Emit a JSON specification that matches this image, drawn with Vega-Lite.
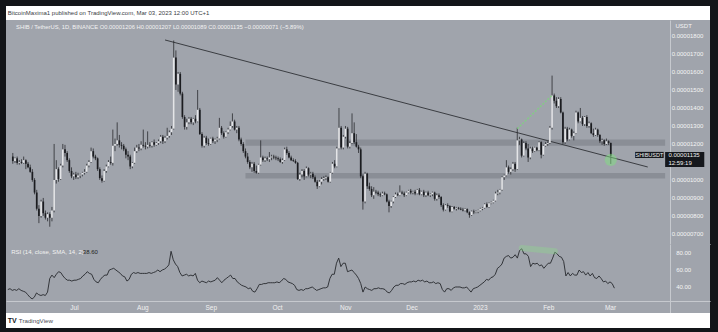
{
  "$schema": "https://vega.github.io/schema/vega-lite/v6.json",
  "background": "#131519",
  "padding": {"left": 6, "top": 6, "right": 8, "bottom": 4},
  "spacing": 0,
  "bounds": "flush",
  "config": {
    "view": {"stroke": null},
    "font": "Liberation Sans",
    "text": {"font": "Liberation Sans"},
    "axis": {"labelFont": "Liberation Sans", "titleFont": "Liberation Sans"}
  },
  "datasets": {
    "k": [
      {"d":"2022-06-01","o":1130,"h":1150,"l":1090,"c":1105,"r":37},
      {"d":"2022-06-02","o":1105,"h":1125,"l":1095,"c":1120,"r":38},
      {"d":"2022-06-03","o":1120,"h":1130,"l":1085,"c":1095,"r":36},
      {"d":"2022-06-04","o":1095,"h":1110,"l":1085,"c":1100,"r":37},
      {"d":"2022-06-05","o":1100,"h":1115,"l":1090,"c":1095,"r":36},
      {"d":"2022-06-06","o":1095,"h":1130,"l":1090,"c":1110,"r":38},
      {"d":"2022-06-07","o":1110,"h":1115,"l":1060,"c":1090,"r":36},
      {"d":"2022-06-08","o":1090,"h":1100,"l":1065,"c":1070,"r":35},
      {"d":"2022-06-09","o":1070,"h":1085,"l":1040,"c":1045,"r":34},
      {"d":"2022-06-10","o":1045,"h":1060,"l":990,"c":1000,"r":31},
      {"d":"2022-06-11","o":1000,"h":1010,"l":920,"c":930,"r":28},
      {"d":"2022-06-12","o":930,"h":945,"l":830,"c":840,"r":26},
      {"d":"2022-06-13","o":840,"h":860,"l":760,"c":800,"r":28},
      {"d":"2022-06-14","o":800,"h":890,"l":790,"c":880,"r":33},
      {"d":"2022-06-15","o":880,"h":900,"l":800,"c":815,"r":31},
      {"d":"2022-06-16","o":815,"h":830,"l":780,"c":790,"r":30},
      {"d":"2022-06-17","o":790,"h":820,"l":770,"c":810,"r":31},
      {"d":"2022-06-18","o":810,"h":820,"l":740,"c":790,"r":30},
      {"d":"2022-06-19","o":790,"h":850,"l":770,"c":830,"r":34},
      {"d":"2022-06-20","o":830,"h":1200,"l":820,"c":1000,"r":50},
      {"d":"2022-06-21","o":1000,"h":1110,"l":980,"c":1060,"r":54},
      {"d":"2022-06-22","o":1060,"h":1070,"l":990,"c":1005,"r":51},
      {"d":"2022-06-23","o":1005,"h":1090,"l":1000,"c":1080,"r":55},
      {"d":"2022-06-24","o":1080,"h":1200,"l":1070,"c":1170,"r":58},
      {"d":"2022-06-25","o":1170,"h":1195,"l":1130,"c":1150,"r":57},
      {"d":"2022-06-26","o":1150,"h":1160,"l":1100,"c":1110,"r":53},
      {"d":"2022-06-27","o":1110,"h":1120,"l":1040,"c":1050,"r":50},
      {"d":"2022-06-28","o":1050,"h":1070,"l":1010,"c":1020,"r":48},
      {"d":"2022-06-29","o":1020,"h":1040,"l":1000,"c":1030,"r":48},
      {"d":"2022-06-30","o":1030,"h":1045,"l":1005,"c":1015,"r":47},
      {"d":"2022-07-01","o":1015,"h":1040,"l":1005,"c":1025,"r":48},
      {"d":"2022-07-02","o":1025,"h":1035,"l":1010,"c":1030,"r":48},
      {"d":"2022-07-03","o":1030,"h":1045,"l":1020,"c":1040,"r":49},
      {"d":"2022-07-04","o":1040,"h":1060,"l":1030,"c":1045,"r":50},
      {"d":"2022-07-05","o":1045,"h":1090,"l":1040,"c":1080,"r":53},
      {"d":"2022-07-06","o":1080,"h":1110,"l":1070,"c":1100,"r":55},
      {"d":"2022-07-07","o":1100,"h":1180,"l":1095,"c":1160,"r":58},
      {"d":"2022-07-08","o":1160,"h":1175,"l":1120,"c":1130,"r":56},
      {"d":"2022-07-09","o":1130,"h":1140,"l":1110,"c":1120,"r":55},
      {"d":"2022-07-10","o":1120,"h":1125,"l":1050,"c":1060,"r":49},
      {"d":"2022-07-11","o":1060,"h":1070,"l":1000,"c":1010,"r":46},
      {"d":"2022-07-12","o":1010,"h":1025,"l":985,"c":995,"r":45},
      {"d":"2022-07-13","o":995,"h":1060,"l":990,"c":1050,"r":49},
      {"d":"2022-07-14","o":1050,"h":1085,"l":1040,"c":1075,"r":52},
      {"d":"2022-07-15","o":1075,"h":1110,"l":1070,"c":1100,"r":54},
      {"d":"2022-07-16","o":1100,"h":1130,"l":1085,"c":1095,"r":54},
      {"d":"2022-07-17","o":1095,"h":1280,"l":1080,"c":1190,"r":60},
      {"d":"2022-07-18","o":1190,"h":1230,"l":1160,"c":1200,"r":61},
      {"d":"2022-07-19","o":1200,"h":1320,"l":1190,"c":1220,"r":62},
      {"d":"2022-07-20","o":1220,"h":1250,"l":1180,"c":1195,"r":60},
      {"d":"2022-07-21","o":1195,"h":1210,"l":1170,"c":1190,"r":58},
      {"d":"2022-07-22","o":1190,"h":1200,"l":1160,"c":1170,"r":56},
      {"d":"2022-07-23","o":1170,"h":1180,"l":1120,"c":1140,"r":53},
      {"d":"2022-07-24","o":1140,"h":1160,"l":1110,"c":1130,"r":52},
      {"d":"2022-07-25","o":1130,"h":1140,"l":1060,"c":1075,"r":47},
      {"d":"2022-07-26","o":1075,"h":1100,"l":1065,"c":1095,"r":49},
      {"d":"2022-07-27","o":1095,"h":1180,"l":1090,"c":1160,"r":55},
      {"d":"2022-07-28","o":1160,"h":1195,"l":1150,"c":1180,"r":57},
      {"d":"2022-07-29","o":1180,"h":1200,"l":1160,"c":1175,"r":56},
      {"d":"2022-07-30","o":1175,"h":1215,"l":1165,"c":1195,"r":57},
      {"d":"2022-07-31","o":1195,"h":1280,"l":1180,"c":1190,"r":56},
      {"d":"2022-08-01","o":1190,"h":1210,"l":1170,"c":1185,"r":56},
      {"d":"2022-08-02","o":1185,"h":1270,"l":1175,"c":1195,"r":56},
      {"d":"2022-08-03","o":1195,"h":1210,"l":1180,"c":1190,"r":56},
      {"d":"2022-08-04","o":1190,"h":1215,"l":1180,"c":1210,"r":57},
      {"d":"2022-08-05","o":1210,"h":1225,"l":1185,"c":1195,"r":56},
      {"d":"2022-08-06","o":1195,"h":1210,"l":1190,"c":1205,"r":57},
      {"d":"2022-08-07","o":1205,"h":1225,"l":1195,"c":1215,"r":58},
      {"d":"2022-08-08","o":1215,"h":1250,"l":1205,"c":1240,"r":60},
      {"d":"2022-08-09","o":1240,"h":1250,"l":1200,"c":1215,"r":58},
      {"d":"2022-08-10","o":1215,"h":1245,"l":1205,"c":1235,"r":60},
      {"d":"2022-08-11","o":1235,"h":1290,"l":1225,"c":1245,"r":61},
      {"d":"2022-08-12","o":1245,"h":1275,"l":1235,"c":1265,"r":63},
      {"d":"2022-08-13","o":1265,"h":1300,"l":1250,"c":1285,"r":66},
      {"d":"2022-08-14","o":1285,"h":1775,"l":1280,"c":1680,"r":82},
      {"d":"2022-08-15","o":1680,"h":1720,"l":1500,"c":1530,"r":72},
      {"d":"2022-08-16","o":1530,"h":1600,"l":1490,"c":1590,"r":67},
      {"d":"2022-08-17","o":1590,"h":1600,"l":1470,"c":1480,"r":64},
      {"d":"2022-08-18","o":1480,"h":1490,"l":1340,"c":1350,"r":57},
      {"d":"2022-08-19","o":1350,"h":1360,"l":1280,"c":1295,"r":53},
      {"d":"2022-08-20","o":1295,"h":1340,"l":1280,"c":1320,"r":54},
      {"d":"2022-08-21","o":1320,"h":1350,"l":1310,"c":1340,"r":55},
      {"d":"2022-08-22","o":1340,"h":1350,"l":1310,"c":1320,"r":53},
      {"d":"2022-08-23","o":1320,"h":1345,"l":1305,"c":1340,"r":54},
      {"d":"2022-08-24","o":1340,"h":1360,"l":1315,"c":1325,"r":53},
      {"d":"2022-08-25","o":1325,"h":1500,"l":1320,"c":1390,"r":56},
      {"d":"2022-08-26","o":1390,"h":1400,"l":1250,"c":1255,"r":48},
      {"d":"2022-08-27","o":1255,"h":1265,"l":1180,"c":1190,"r":45},
      {"d":"2022-08-28","o":1190,"h":1245,"l":1180,"c":1235,"r":47},
      {"d":"2022-08-29","o":1235,"h":1245,"l":1195,"c":1205,"r":46},
      {"d":"2022-08-30","o":1205,"h":1230,"l":1190,"c":1200,"r":45},
      {"d":"2022-08-31","o":1200,"h":1235,"l":1195,"c":1230,"r":47},
      {"d":"2022-09-01","o":1230,"h":1240,"l":1205,"c":1215,"r":46},
      {"d":"2022-09-02","o":1215,"h":1230,"l":1200,"c":1225,"r":47},
      {"d":"2022-09-03","o":1225,"h":1240,"l":1210,"c":1230,"r":48},
      {"d":"2022-09-04","o":1230,"h":1345,"l":1225,"c":1290,"r":51},
      {"d":"2022-09-05","o":1290,"h":1300,"l":1250,"c":1260,"r":48},
      {"d":"2022-09-06","o":1260,"h":1270,"l":1230,"c":1240,"r":45},
      {"d":"2022-09-07","o":1240,"h":1270,"l":1235,"c":1265,"r":48},
      {"d":"2022-09-08","o":1265,"h":1290,"l":1255,"c":1280,"r":50},
      {"d":"2022-09-09","o":1280,"h":1325,"l":1275,"c":1300,"r":52},
      {"d":"2022-09-10","o":1300,"h":1370,"l":1290,"c":1325,"r":54},
      {"d":"2022-09-11","o":1325,"h":1335,"l":1275,"c":1280,"r":50},
      {"d":"2022-09-12","o":1280,"h":1300,"l":1260,"c":1290,"r":50},
      {"d":"2022-09-13","o":1290,"h":1300,"l":1215,"c":1225,"r":46},
      {"d":"2022-09-14","o":1225,"h":1235,"l":1190,"c":1200,"r":44},
      {"d":"2022-09-15","o":1200,"h":1210,"l":1150,"c":1160,"r":42},
      {"d":"2022-09-16","o":1160,"h":1175,"l":1120,"c":1130,"r":41},
      {"d":"2022-09-17","o":1130,"h":1150,"l":1090,"c":1100,"r":40},
      {"d":"2022-09-18","o":1100,"h":1110,"l":1060,"c":1070,"r":38},
      {"d":"2022-09-19","o":1070,"h":1100,"l":1045,"c":1090,"r":39},
      {"d":"2022-09-20","o":1090,"h":1100,"l":1040,"c":1050,"r":35},
      {"d":"2022-09-21","o":1050,"h":1080,"l":1035,"c":1040,"r":34},
      {"d":"2022-09-22","o":1040,"h":1090,"l":1035,"c":1085,"r":38},
      {"d":"2022-09-23","o":1085,"h":1220,"l":1080,"c":1125,"r":43},
      {"d":"2022-09-24","o":1125,"h":1135,"l":1100,"c":1110,"r":43},
      {"d":"2022-09-25","o":1110,"h":1130,"l":1100,"c":1120,"r":44},
      {"d":"2022-09-26","o":1120,"h":1130,"l":1105,"c":1115,"r":44},
      {"d":"2022-09-27","o":1115,"h":1155,"l":1100,"c":1125,"r":45},
      {"d":"2022-09-28","o":1125,"h":1140,"l":1110,"c":1130,"r":45},
      {"d":"2022-09-29","o":1130,"h":1140,"l":1115,"c":1125,"r":45},
      {"d":"2022-09-30","o":1125,"h":1135,"l":1110,"c":1120,"r":45},
      {"d":"2022-10-01","o":1120,"h":1130,"l":1105,"c":1115,"r":46},
      {"d":"2022-10-02","o":1115,"h":1125,"l":1095,"c":1100,"r":45},
      {"d":"2022-10-03","o":1100,"h":1120,"l":1090,"c":1110,"r":47},
      {"d":"2022-10-04","o":1110,"h":1180,"l":1105,"c":1170,"r":50},
      {"d":"2022-10-05","o":1170,"h":1185,"l":1140,"c":1150,"r":49},
      {"d":"2022-10-06","o":1150,"h":1160,"l":1120,"c":1125,"r":46},
      {"d":"2022-10-07","o":1125,"h":1135,"l":1105,"c":1110,"r":45},
      {"d":"2022-10-08","o":1110,"h":1120,"l":1100,"c":1105,"r":44},
      {"d":"2022-10-09","o":1105,"h":1115,"l":1090,"c":1095,"r":42},
      {"d":"2022-10-10","o":1095,"h":1100,"l":1000,"c":1005,"r":37},
      {"d":"2022-10-11","o":1005,"h":1040,"l":995,"c":1030,"r":36},
      {"d":"2022-10-12","o":1030,"h":1060,"l":1015,"c":1050,"r":37},
      {"d":"2022-10-13","o":1050,"h":1060,"l":1000,"c":1020,"r":36},
      {"d":"2022-10-14","o":1020,"h":1075,"l":1015,"c":1065,"r":38},
      {"d":"2022-10-15","o":1065,"h":1070,"l":1020,"c":1030,"r":38},
      {"d":"2022-10-16","o":1030,"h":1045,"l":1010,"c":1035,"r":39},
      {"d":"2022-10-17","o":1035,"h":1045,"l":1005,"c":1015,"r":40},
      {"d":"2022-10-18","o":1015,"h":1025,"l":985,"c":990,"r":38},
      {"d":"2022-10-19","o":990,"h":1000,"l":950,"c":965,"r":36},
      {"d":"2022-10-20","o":965,"h":1000,"l":960,"c":990,"r":37},
      {"d":"2022-10-21","o":990,"h":1015,"l":975,"c":1005,"r":38},
      {"d":"2022-10-22","o":1005,"h":1020,"l":995,"c":1010,"r":39},
      {"d":"2022-10-23","o":1010,"h":1025,"l":1000,"c":1015,"r":39},
      {"d":"2022-10-24","o":1015,"h":1020,"l":985,"c":990,"r":40},
      {"d":"2022-10-25","o":990,"h":1045,"l":985,"c":1040,"r":50},
      {"d":"2022-10-26","o":1040,"h":1100,"l":1035,"c":1090,"r":55},
      {"d":"2022-10-27","o":1090,"h":1110,"l":1065,"c":1075,"r":55},
      {"d":"2022-10-28","o":1075,"h":1185,"l":1070,"c":1175,"r":68},
      {"d":"2022-10-29","o":1175,"h":1400,"l":1170,"c":1290,"r":74},
      {"d":"2022-10-30","o":1290,"h":1300,"l":1170,"c":1180,"r":64},
      {"d":"2022-10-31","o":1180,"h":1250,"l":1170,"c":1240,"r":68},
      {"d":"2022-11-01","o":1240,"h":1300,"l":1230,"c":1285,"r":68},
      {"d":"2022-11-02","o":1285,"h":1295,"l":1175,"c":1185,"r":58},
      {"d":"2022-11-03","o":1185,"h":1215,"l":1175,"c":1205,"r":59},
      {"d":"2022-11-04","o":1205,"h":1370,"l":1200,"c":1260,"r":60},
      {"d":"2022-11-05","o":1260,"h":1320,"l":1200,"c":1210,"r":57},
      {"d":"2022-11-06","o":1210,"h":1255,"l":1180,"c":1185,"r":54},
      {"d":"2022-11-07","o":1185,"h":1195,"l":1150,"c":1170,"r":50},
      {"d":"2022-11-08","o":1170,"h":1180,"l":1010,"c":1020,"r":44},
      {"d":"2022-11-09","o":1020,"h":1030,"l":835,"c":880,"r":34},
      {"d":"2022-11-10","o":880,"h":1045,"l":870,"c":1035,"r":40},
      {"d":"2022-11-11","o":1035,"h":1040,"l":950,"c":965,"r":38},
      {"d":"2022-11-12","o":965,"h":985,"l":940,"c":950,"r":37},
      {"d":"2022-11-13","o":950,"h":965,"l":905,"c":915,"r":36},
      {"d":"2022-11-14","o":915,"h":960,"l":895,"c":935,"r":38},
      {"d":"2022-11-15","o":935,"h":945,"l":920,"c":930,"r":38},
      {"d":"2022-11-16","o":930,"h":940,"l":910,"c":920,"r":39},
      {"d":"2022-11-17","o":920,"h":930,"l":905,"c":915,"r":38},
      {"d":"2022-11-18","o":915,"h":935,"l":910,"c":925,"r":38},
      {"d":"2022-11-19","o":925,"h":935,"l":915,"c":920,"r":37},
      {"d":"2022-11-20","o":920,"h":925,"l":875,"c":880,"r":34},
      {"d":"2022-11-21","o":880,"h":890,"l":820,"c":855,"r":33},
      {"d":"2022-11-22","o":855,"h":885,"l":845,"c":880,"r":36},
      {"d":"2022-11-23","o":880,"h":910,"l":870,"c":905,"r":40},
      {"d":"2022-11-24","o":905,"h":930,"l":900,"c":920,"r":42},
      {"d":"2022-11-25","o":920,"h":930,"l":910,"c":915,"r":42},
      {"d":"2022-11-26","o":915,"h":970,"l":910,"c":930,"r":44},
      {"d":"2022-11-27","o":930,"h":940,"l":920,"c":925,"r":44},
      {"d":"2022-11-28","o":925,"h":935,"l":905,"c":915,"r":43},
      {"d":"2022-11-29","o":915,"h":935,"l":910,"c":930,"r":45},
      {"d":"2022-11-30","o":930,"h":945,"l":925,"c":940,"r":46},
      {"d":"2022-12-01","o":940,"h":950,"l":920,"c":930,"r":46},
      {"d":"2022-12-02","o":930,"h":940,"l":920,"c":935,"r":47},
      {"d":"2022-12-03","o":935,"h":945,"l":915,"c":925,"r":46},
      {"d":"2022-12-04","o":925,"h":950,"l":920,"c":945,"r":48},
      {"d":"2022-12-05","o":945,"h":955,"l":915,"c":920,"r":47},
      {"d":"2022-12-06","o":920,"h":940,"l":915,"c":935,"r":48},
      {"d":"2022-12-07","o":935,"h":945,"l":905,"c":915,"r":46},
      {"d":"2022-12-08","o":915,"h":935,"l":905,"c":930,"r":47},
      {"d":"2022-12-09","o":930,"h":940,"l":910,"c":915,"r":45},
      {"d":"2022-12-10","o":915,"h":925,"l":905,"c":920,"r":45},
      {"d":"2022-12-11","o":920,"h":935,"l":910,"c":930,"r":46},
      {"d":"2022-12-12","o":930,"h":935,"l":885,"c":895,"r":44},
      {"d":"2022-12-13","o":895,"h":925,"l":885,"c":915,"r":45},
      {"d":"2022-12-14","o":915,"h":925,"l":895,"c":905,"r":44},
      {"d":"2022-12-15","o":905,"h":910,"l":850,"c":860,"r":37},
      {"d":"2022-12-16","o":860,"h":870,"l":825,"c":835,"r":34},
      {"d":"2022-12-17","o":835,"h":865,"l":830,"c":860,"r":38},
      {"d":"2022-12-18","o":860,"h":870,"l":845,"c":855,"r":38},
      {"d":"2022-12-19","o":855,"h":860,"l":820,"c":825,"r":36},
      {"d":"2022-12-20","o":825,"h":855,"l":820,"c":850,"r":39},
      {"d":"2022-12-21","o":850,"h":855,"l":835,"c":840,"r":40},
      {"d":"2022-12-22","o":840,"h":850,"l":830,"c":845,"r":40},
      {"d":"2022-12-23","o":845,"h":850,"l":835,"c":840,"r":40},
      {"d":"2022-12-24","o":840,"h":848,"l":832,"c":835,"r":39},
      {"d":"2022-12-25","o":835,"h":845,"l":825,"c":830,"r":39},
      {"d":"2022-12-26","o":830,"h":842,"l":825,"c":838,"r":40},
      {"d":"2022-12-27","o":838,"h":842,"l":815,"c":820,"r":37},
      {"d":"2022-12-28","o":820,"h":825,"l":790,"c":805,"r":34},
      {"d":"2022-12-29","o":805,"h":830,"l":800,"c":825,"r":38},
      {"d":"2022-12-30","o":825,"h":835,"l":810,"c":820,"r":39},
      {"d":"2022-12-31","o":820,"h":830,"l":815,"c":825,"r":40},
      {"d":"2023-01-01","o":825,"h":835,"l":815,"c":830,"r":42},
      {"d":"2023-01-02","o":830,"h":845,"l":825,"c":840,"r":44},
      {"d":"2023-01-03","o":840,"h":850,"l":832,"c":845,"r":46},
      {"d":"2023-01-04","o":845,"h":870,"l":840,"c":865,"r":49},
      {"d":"2023-01-05","o":865,"h":875,"l":845,"c":850,"r":48},
      {"d":"2023-01-06","o":850,"h":875,"l":845,"c":870,"r":51},
      {"d":"2023-01-07","o":870,"h":880,"l":865,"c":875,"r":52},
      {"d":"2023-01-08","o":875,"h":890,"l":870,"c":885,"r":55},
      {"d":"2023-01-09","o":885,"h":935,"l":880,"c":925,"r":62},
      {"d":"2023-01-10","o":925,"h":945,"l":915,"c":930,"r":64},
      {"d":"2023-01-11","o":930,"h":950,"l":920,"c":945,"r":67},
      {"d":"2023-01-12","o":945,"h":1020,"l":940,"c":1015,"r":74},
      {"d":"2023-01-13","o":1015,"h":1030,"l":1000,"c":1025,"r":76},
      {"d":"2023-01-14","o":1025,"h":1110,"l":1020,"c":1070,"r":77},
      {"d":"2023-01-15","o":1070,"h":1080,"l":1035,"c":1045,"r":74},
      {"d":"2023-01-16","o":1045,"h":1070,"l":1030,"c":1060,"r":75},
      {"d":"2023-01-17","o":1060,"h":1100,"l":1050,"c":1090,"r":78},
      {"d":"2023-01-18","o":1090,"h":1100,"l":1045,"c":1060,"r":74},
      {"d":"2023-01-19","o":1060,"h":1290,"l":1055,"c":1220,"r":83},
      {"d":"2023-01-20","o":1220,"h":1240,"l":1195,"c":1225,"r":85},
      {"d":"2023-01-21","o":1225,"h":1230,"l":1125,"c":1135,"r":79},
      {"d":"2023-01-22","o":1135,"h":1215,"l":1130,"c":1205,"r":79},
      {"d":"2023-01-23","o":1205,"h":1215,"l":1165,"c":1175,"r":76},
      {"d":"2023-01-24","o":1175,"h":1200,"l":1100,"c":1125,"r":64},
      {"d":"2023-01-25","o":1125,"h":1185,"l":1115,"c":1175,"r":68},
      {"d":"2023-01-26","o":1175,"h":1185,"l":1150,"c":1160,"r":67},
      {"d":"2023-01-27","o":1160,"h":1185,"l":1155,"c":1180,"r":68},
      {"d":"2023-01-28","o":1180,"h":1185,"l":1160,"c":1165,"r":65},
      {"d":"2023-01-29","o":1165,"h":1215,"l":1160,"c":1210,"r":66},
      {"d":"2023-01-30","o":1210,"h":1215,"l":1120,"c":1140,"r":62},
      {"d":"2023-01-31","o":1140,"h":1195,"l":1135,"c":1190,"r":65},
      {"d":"2023-02-01","o":1190,"h":1210,"l":1185,"c":1200,"r":68},
      {"d":"2023-02-02","o":1200,"h":1215,"l":1190,"c":1205,"r":68},
      {"d":"2023-02-03","o":1205,"h":1300,"l":1200,"c":1290,"r":74},
      {"d":"2023-02-04","o":1290,"h":1580,"l":1280,"c":1470,"r":81},
      {"d":"2023-02-05","o":1470,"h":1480,"l":1425,"c":1440,"r":79},
      {"d":"2023-02-06","o":1440,"h":1460,"l":1400,"c":1410,"r":76},
      {"d":"2023-02-07","o":1410,"h":1460,"l":1400,"c":1450,"r":75},
      {"d":"2023-02-08","o":1450,"h":1460,"l":1370,"c":1375,"r":70},
      {"d":"2023-02-09","o":1375,"h":1380,"l":1200,"c":1210,"r":53},
      {"d":"2023-02-10","o":1210,"h":1295,"l":1200,"c":1285,"r":57},
      {"d":"2023-02-11","o":1285,"h":1295,"l":1215,"c":1225,"r":53},
      {"d":"2023-02-12","o":1225,"h":1290,"l":1220,"c":1280,"r":56},
      {"d":"2023-02-13","o":1280,"h":1285,"l":1235,"c":1245,"r":54},
      {"d":"2023-02-14","o":1245,"h":1270,"l":1220,"c":1260,"r":54},
      {"d":"2023-02-15","o":1260,"h":1385,"l":1255,"c":1375,"r":60},
      {"d":"2023-02-16","o":1375,"h":1380,"l":1315,"c":1325,"r":57},
      {"d":"2023-02-17","o":1325,"h":1400,"l":1320,"c":1345,"r":58},
      {"d":"2023-02-18","o":1345,"h":1355,"l":1300,"c":1310,"r":54},
      {"d":"2023-02-19","o":1310,"h":1355,"l":1300,"c":1350,"r":57},
      {"d":"2023-02-20","o":1350,"h":1360,"l":1290,"c":1300,"r":53},
      {"d":"2023-02-21","o":1300,"h":1325,"l":1290,"c":1315,"r":56},
      {"d":"2023-02-22","o":1315,"h":1320,"l":1255,"c":1260,"r":51},
      {"d":"2023-02-23","o":1260,"h":1285,"l":1240,"c":1250,"r":50},
      {"d":"2023-02-24","o":1250,"h":1290,"l":1245,"c":1280,"r":53},
      {"d":"2023-02-25","o":1280,"h":1285,"l":1240,"c":1250,"r":50},
      {"d":"2023-02-26","o":1250,"h":1255,"l":1205,"c":1215,"r":46},
      {"d":"2023-02-27","o":1215,"h":1230,"l":1195,"c":1220,"r":47},
      {"d":"2023-02-28","o":1220,"h":1225,"l":1190,"c":1200,"r":44},
      {"d":"2023-03-01","o":1200,"h":1230,"l":1195,"c":1215,"r":46},
      {"d":"2023-03-02","o":1215,"h":1220,"l":1195,"c":1206,"r":44},
      {"d":"2023-03-03","o":1206,"h":1207,"l":1089,"c":1135,"r":38.6}
    ]
  },
  "vconcat": [
    {
      "width": 704,
      "height": 14,
      "view": {"fill": "#ffffff"},
      "data": {"values": [{"d": "2022-06-01T00:00:00Z", "t": "BitcoinMaxima1 published on TradingView.com, Mar 03, 2023 12:00 UTC+1"}]},
      "mark": {"type": "text", "align": "left", "baseline": "middle", "fontSize": 6, "color": "#3a3d44"},
      "encoding": {
        "x": {"field": "d", "type": "temporal", "scale": {"type": "utc", "domain": [{"year": 2022, "month": 5, "date": 31, "hours": 4, "utc": true}, {"year": 2023, "month": 4, "date": 15, "hours": 8, "utc": true}]}, "axis": null},
        "text": {"field": "t"}
      }
    },
    {
      "width": 704,
      "height": 224,
      "view": {"fill": "#a0a4ac"},
      "encoding": {
        "x": {
          "field": "d", "type": "temporal",
          "scale": {"type": "utc", "domain": [{"year": 2022, "month": 5, "date": 31, "hours": 4, "utc": true}, {"year": 2023, "month": 4, "date": 15, "hours": 8, "utc": true}]},
          "axis": {"orient": "bottom", "labels": false, "ticks": false, "grid": false, "domainColor": "#c6c9ce", "domainWidth": 1, "title": null}
        }
      },
      "layer": [
        {
          "data": {"values": [
            {"d": "2022-09-16", "d2": "2023-03-28", "p": 1225, "p2": 1190},
            {"d": "2022-09-16", "d2": "2023-03-28", "p": 1038, "p2": 1008}
          ]},
          "mark": {"type": "rect", "fill": "#8a8e96"},
          "encoding": {
            "x2": {"field": "d2"},
            "y": {
              "field": "p", "type": "quantitative",
              "scale": {"domain": [644, 1889], "nice": false, "zero": false},
              "axis": {
                "orient": "right", "offset": -40, "labels": false,
                "ticks": false, "grid": false, "domainColor": "#c6c9ce",
                "title": "USDT", "titleAngle": 0, "titleAlign": "left", "titleBaseline": "middle",
                "titleX": 5, "titleY": 5, "titleFontSize": 6, "titleColor": "#f4f4f4", "titleFontWeight": "normal"
              }
            },
            "y2": {"field": "p2"}
          }
        },
        {
          "data": {"values": [
            {"d": "2023-03-31T00:00:00Z", "p": 1800, "t": "0.00001800"},
            {"d": "2023-03-31T00:00:00Z", "p": 1700, "t": "0.00001700"},
            {"d": "2023-03-31T00:00:00Z", "p": 1600, "t": "0.00001600"},
            {"d": "2023-03-31T00:00:00Z", "p": 1500, "t": "0.00001500"},
            {"d": "2023-03-31T00:00:00Z", "p": 1400, "t": "0.00001400"},
            {"d": "2023-03-31T00:00:00Z", "p": 1300, "t": "0.00001300"},
            {"d": "2023-03-31T00:00:00Z", "p": 1200, "t": "0.00001200"},
            {"d": "2023-03-31T00:00:00Z", "p": 1000, "t": "0.00001000"},
            {"d": "2023-03-31T00:00:00Z", "p": 900, "t": "0.00000900"},
            {"d": "2023-03-31T00:00:00Z", "p": 800, "t": "0.00000800"},
            {"d": "2023-03-31T00:00:00Z", "p": 700, "t": "0.00000700"}
          ]},
          "mark": {"type": "text", "align": "left", "baseline": "middle", "fontSize": 6, "color": "#f4f4f4"},
          "encoding": {
            "y": {"field": "p", "type": "quantitative"},
            "text": {"field": "t"}
          }
        },
        {
          "data": {"values": [{"d": "2022-08-10", "p": 1778}, {"d": "2023-03-20", "p": 1072}]},
          "mark": {"type": "line", "color": "#2f3136", "strokeWidth": 0.9},
          "encoding": {"y": {"field": "p", "type": "quantitative"}}
        },
        {
          "data": {"name": "k"},
          "mark": {"type": "rule", "color": "#2a2b2f", "strokeWidth": 0.8},
          "encoding": {"y": {"field": "l", "type": "quantitative"}, "y2": {"field": "h"}}
        },
        {
          "data": {"name": "k"},
          "mark": {"type": "bar", "width": 1.7},
          "encoding": {
            "y": {"field": "o", "type": "quantitative"},
            "y2": {"field": "c"},
            "color": {"condition": {"test": "datum.c >= datum.o", "value": "#e4e5e8"}, "value": "#1b1c20"}
          }
        },
        {
          "data": {"values": [{"d": "2023-01-19", "p": 1285}, {"d": "2023-02-04", "p": 1470}]},
          "mark": {"type": "line", "color": "#7fd27f", "strokeWidth": 1.5, "strokeDash": [2, 1.5], "opacity": 0.85},
          "encoding": {"y": {"field": "p", "type": "quantitative"}}
        },
        {
          "data": {"values": [{"d": "2023-03-03", "p": 1111}]},
          "mark": {"type": "point", "filled": true, "size": 150, "color": "#80e080", "opacity": 0.5},
          "encoding": {"y": {"field": "p", "type": "quantitative"}}
        },
        {
          "data": {"values": [
            {"d": "2023-03-14T05:00:00Z", "d2": "2023-03-27T08:00:00Z", "p": 1156, "p2": 1122},
            {"d": "2023-03-28T00:00:00Z", "d2": "2023-04-15T00:00:00Z", "p": 1156, "p2": 1072}
          ]},
          "mark": {"type": "rect", "fill": "#15171c"},
          "encoding": {"x2": {"field": "d2"}, "y": {"field": "p", "type": "quantitative"}, "y2": {"field": "p2"}}
        },
        {
          "data": {"values": [{"d": "2023-03-20T18:00:00Z", "p": 1139, "t": "SHIBUSDT"}]},
          "mark": {"type": "text", "align": "center", "baseline": "middle", "fontSize": 5.5, "color": "#f0f0f0"},
          "encoding": {"y": {"field": "p", "type": "quantitative"}, "text": {"field": "t"}}
        },
        {
          "data": {"values": [
            {"d": "2023-03-29T12:00:00Z", "p": 1136, "t": "0.00001135"},
            {"d": "2023-03-29T12:00:00Z", "p": 1094, "t": "12:59:19"}
          ]},
          "mark": {"type": "text", "align": "left", "baseline": "middle", "fontSize": 6, "color": "#f0f0f0"},
          "encoding": {"y": {"field": "p", "type": "quantitative"}, "text": {"field": "t"}}
        },
        {
          "data": {"values": [{"d": "2022-06-02T12:00:00Z", "p": 1850, "t": "SHIB / TetherUS, 1D, BINANCE   O0.00001206  H0.00001207  L0.00001089  C0.00001135  \u22120.00000071 (\u22125.89%)"}]},
          "mark": {"type": "text", "align": "left", "baseline": "middle", "fontSize": 5.8, "color": "#f2f2f2"},
          "encoding": {"y": {"field": "p", "type": "quantitative"}, "text": {"field": "t"}}
        }
      ]
    },
    {
      "width": 704,
      "height": 69,
      "view": {"fill": "#a0a4ac"},
      "encoding": {
        "x": {
          "field": "d", "type": "temporal",
          "scale": {"type": "utc", "domain": [{"year": 2022, "month": 5, "date": 31, "hours": 4, "utc": true}, {"year": 2023, "month": 4, "date": 15, "hours": 8, "utc": true}]},
          "axis": {
            "orient": "bottom", "offset": -12,
            "values": [
              {"year": 2022, "month": 7, "date": 1, "utc": true},
              {"year": 2022, "month": 8, "date": 1, "utc": true},
              {"year": 2022, "month": 9, "date": 1, "utc": true},
              {"year": 2022, "month": 10, "date": 1, "utc": true},
              {"year": 2022, "month": 11, "date": 1, "utc": true},
              {"year": 2022, "month": 12, "date": 1, "utc": true},
              {"year": 2023, "month": 1, "date": 1, "utc": true},
              {"year": 2023, "month": 2, "date": 1, "utc": true},
              {"year": 2023, "month": 3, "date": 1, "utc": true}
            ],
            "labelExpr": "utcFormat(datum.value, '%m') == '01' ? utcFormat(datum.value, '%Y') : utcFormat(datum.value, '%b')",
            "labelColor": "#f0f0f0", "labelFontSize": 6.5, "labelPadding": 3,
            "labelFlush": false, "labelOverlap": false,
            "ticks": false, "grid": false, "domainColor": "#c6c9ce", "title": null
          }
        }
      },
      "layer": [
        {
          "data": {"name": "k"},
          "mark": {"type": "line", "color": "#26282c", "strokeWidth": 0.9},
          "encoding": {
            "y": {
              "field": "r", "type": "quantitative",
              "scale": {"domain": [9.4, 90.6], "nice": false, "zero": false},
              "axis": {
                "orient": "right", "offset": -40, "labels": false,
                "ticks": false, "grid": false, "domainColor": "#c6c9ce", "title": null
              }
            }
          }
        },
        {
          "data": {"values": [
            {"d": "2023-03-31T00:00:00Z", "r": 80, "t": "80.00"},
            {"d": "2023-03-31T00:00:00Z", "r": 60, "t": "60.00"},
            {"d": "2023-03-31T00:00:00Z", "r": 40, "t": "40.00"}
          ]},
          "mark": {"type": "text", "align": "left", "baseline": "middle", "fontSize": 6, "color": "#f4f4f4"},
          "encoding": {
            "y": {"field": "r", "type": "quantitative"},
            "text": {"field": "t"}
          }
        },
        {
          "data": {"values": [{"d": "2023-01-20", "r": 86}, {"d": "2023-02-04", "r": 82}]},
          "mark": {"type": "line", "color": "#8fd88f", "strokeWidth": 6, "opacity": 0.4, "strokeCap": "round"},
          "encoding": {"y": {"field": "r", "type": "quantitative"}}
        },
        {
          "data": {"values": [{"d": "2022-06-02T12:00:00Z", "r": 81.2, "t": "RSI (14, close, SMA, 14, 2)"}]},
          "mark": {"type": "text", "align": "left", "baseline": "middle", "fontSize": 6, "color": "#f2f2f2"},
          "encoding": {"y": {"field": "r", "type": "quantitative"}, "text": {"field": "t"}}
        },
        {
          "data": {"values": [{"d": "2022-07-05T00:00:00Z", "r": 81.2, "t": "38.60"}]},
          "mark": {"type": "text", "align": "left", "baseline": "middle", "fontSize": 6, "color": "#1e1f23"},
          "encoding": {"y": {"field": "r", "type": "quantitative"}, "text": {"field": "t"}}
        }
      ]
    },
    {
      "width": 704,
      "height": 15,
      "view": {"fill": "#ffffff"},
      "layer": [
        {
          "data": {"values": [{"d": "2022-06-01T00:00:00Z", "t": "TV"}]},
          "mark": {"type": "text", "align": "left", "baseline": "middle", "fontSize": 7, "fontWeight": "bold", "color": "#131722"},
          "encoding": {
            "x": {"field": "d", "type": "temporal", "scale": {"type": "utc", "domain": [{"year": 2022, "month": 5, "date": 31, "hours": 4, "utc": true}, {"year": 2023, "month": 4, "date": 15, "hours": 8, "utc": true}]}, "axis": null},
            "text": {"field": "t"}
          }
        },
        {
          "data": {"values": [{"d": "2022-06-06T00:00:00Z", "t": "TradingView"}]},
          "mark": {"type": "text", "align": "left", "baseline": "middle", "fontSize": 6.2, "color": "#4a4d55"},
          "encoding": {
            "x": {"field": "d", "type": "temporal"},
            "text": {"field": "t"}
          }
        }
      ]
    }
  ]
}
